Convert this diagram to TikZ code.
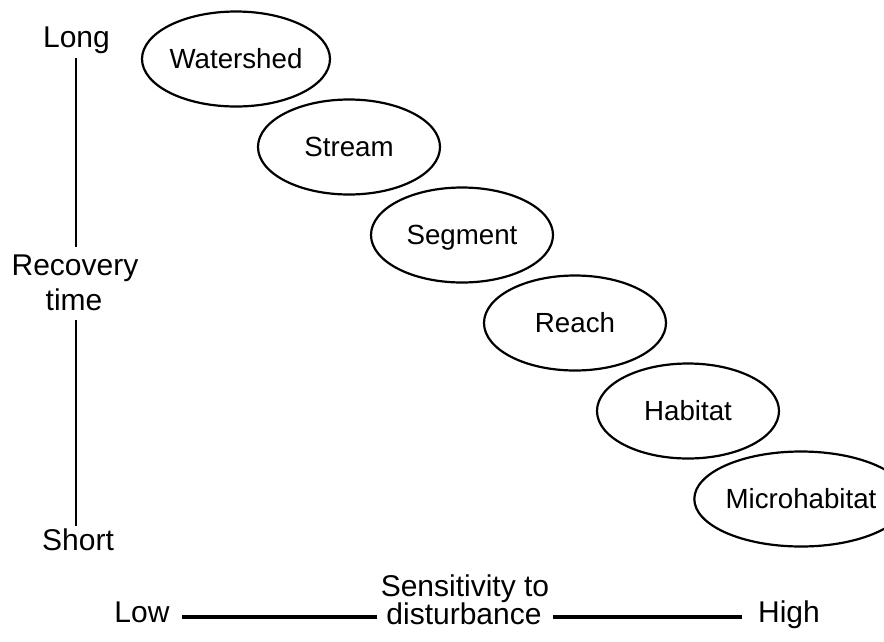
\documentclass[tikz,border=0pt]{standalone}
\usepackage{fontspec}
\setmainfont{Liberation Sans}
\usetikzlibrary{shapes.geometric}
\tikzset{
  level/.style={ellipse, draw, line width=2.2pt, minimum width=182pt, minimum height=95pt,
    inner sep=0pt, font=\fontsize{27.7}{30}\selectfont, text height=19.8pt, text depth=0pt},
  axislabel/.style={anchor=base, inner sep=0pt, font=\fontsize{30}{32}\selectfont},
  vaxis/.style={line width=1.8pt},
  haxis/.style={line width=4pt},
}
\begin{document}
\begin{tikzpicture}[x=1pt,y=-1pt]
\useasboundingbox (0,0) rectangle (884,641);
% levels
\node[level] (watershed) at (236,59) {Watershed};
\node[level] (stream) at (349,147) {Stream};
\node[level] (segment) at (462,235) {Segment};
\node[level] (reach) at (575,323) {Reach};
\node[level] (habitat) at (688,411) {Habitat};
\node[level] (micro) at (801,499) {Microhabitat};
% vertical axis
\node[axislabel] (long) at (76.5,47) {Long};
\node[axislabel] (recovery) at (75,275) {Recovery};
\node[axislabel] (time) at (74,310) {time};
\node[axislabel] (short) at (78,550) {Short};
\coordinate (v1) at (76,58);
\coordinate (v2) at (76,247);
\coordinate (v3) at (76,320);
\coordinate (v4) at (76,526);
\draw[vaxis] (v1) -- (v2);
\draw[vaxis] (v3) -- (v4);
% horizontal axis
\node[axislabel] (low) at (142,622) {Low};
\node[axislabel] (sens) at (465,596) {Sensitivity to};
\node[axislabel] (dist) at (464,624) {disturbance};
\node[axislabel] (high) at (789,622) {High};
\coordinate (h1) at (182,617);
\coordinate (h2) at (377,617);
\coordinate (h3) at (553,617);
\coordinate (h4) at (742,617);
\draw[haxis] (h1) -- (h2);
\draw[haxis] (h3) -- (h4);
\end{tikzpicture}
\end{document}
